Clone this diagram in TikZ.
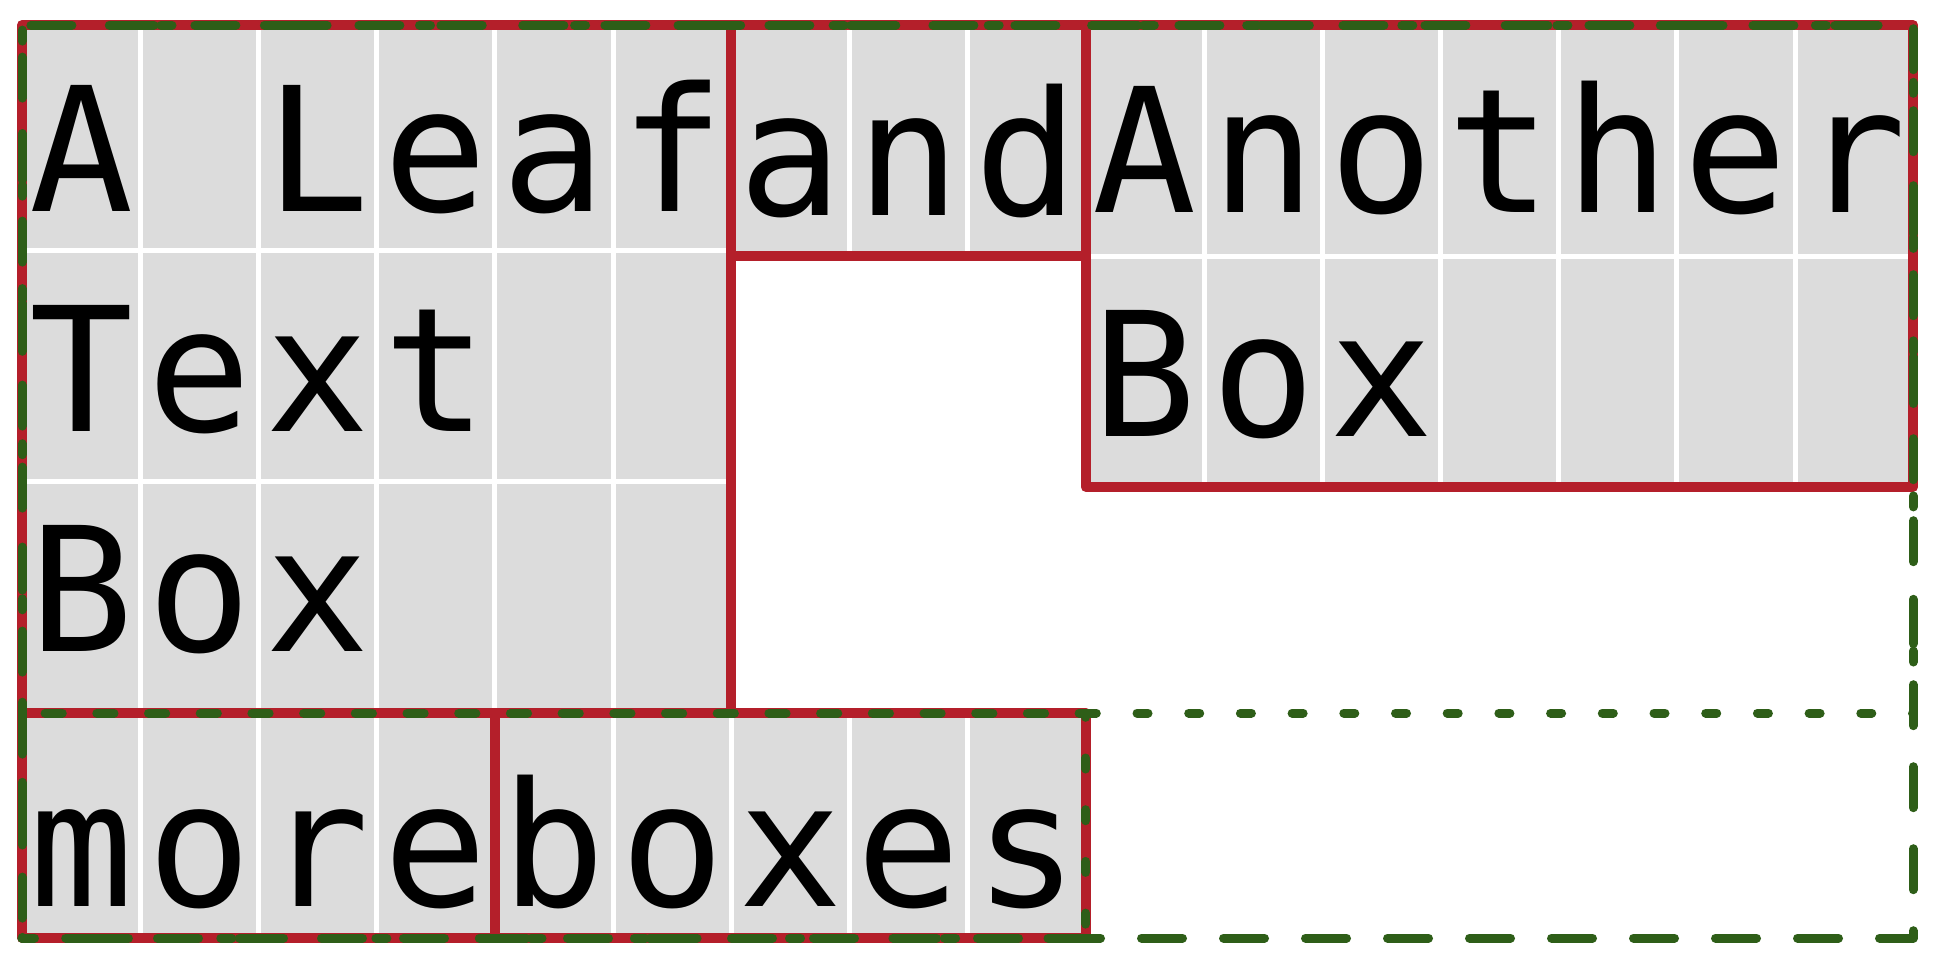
\documentclass[tikz,border=0pt]{standalone}
\usepackage{fontspec}
\setmainfont{DejaVu Sans Mono}
\definecolor{boxred}{RGB}{180,31,42}
\definecolor{dkgreen}{RGB}{46,94,24}
\definecolor{cellgray}{RGB}{220,220,220}
\tikzset{
  cellfill/.style={fill=cellgray, draw=none},
  sepline/.style={draw=white, line width=5pt},
  redbox/.style={draw=boxred, line width=10pt, line join=round},
  contdash/.style={draw=dkgreen, line width=9pt, line cap=round, line join=round, dash pattern=on 41pt off 41pt, dash phase=28.5pt},
  linedot/.style={draw=dkgreen, line width=9pt, line cap=round, line join=round, dash pattern=on 11pt off 40.7pt},
  glyph/.style={anchor=base, inner sep=0pt, outer sep=0pt, font=\fontsize{173}{200}\selectfont}
}
\begin{document}
\begin{tikzpicture}[x=1pt,y=-1pt]
\useasboundingbox (0,0) rectangle (1936,962);
% ---- cell backgrounds
\fill[cellgray] (22,25) rectangle (731.2,713);
\fill[cellgray] (731.2,25) rectangle (1085.8,256);
\fill[cellgray] (1085.8,25) rectangle (1913.2,487);
\fill[cellgray] (22,713) rectangle (494.8,938);
\fill[cellgray] (494.8,713) rectangle (1085.8,938);
% ---- white cell separators
\foreach \x in {140.2,258.4,376.6,494.8,613} \draw[sepline] (\x,25) -- (\x,713);
\foreach \y in {250,481} \draw[sepline] (22,\y) -- (731.2,\y);
\foreach \x in {849.4,967.6} \draw[sepline] (\x,25) -- (\x,256);
\foreach \x in {1204,1322.2,1440.4,1558.6,1676.8,1795} \draw[sepline] (\x,25) -- (\x,487);
\draw[sepline] (1085.8,256) -- (1913.2,256);
\foreach \x in {140.2,258.4,376.6} \draw[sepline] (\x,713) -- (\x,938);
\foreach \x in {613,731.2,849.4,967.6} \draw[sepline] (\x,713) -- (\x,938);
% ---- glyphs
\foreach \ch/\k in {A/0,L/2,e/3,a/4,f/5}
  \node[glyph] (la\k) at ({81.1+118.2*\k},211) {\ch};
\foreach \ch/\k in {T/0,e/1,x/2,t/3}
  \node[glyph] (lb\k) at ({81.1+118.2*\k},431) {\ch};
\foreach \ch/\k in {B/0,o/1,x/2}
  \node[glyph] (lc\k) at ({81.1+118.2*\k},651) {\ch};
\foreach \ch/\k in {a/6,n/7,d/8}
  \node[glyph] (nd\k) at ({81.1+118.2*\k},215) {\ch};
\foreach \ch/\k in {A/9,n/10,o/11,t/12,h/13,e/14,r/15}
  \node[glyph] (ra\k) at ({81.1+118.2*\k},212) {\ch};
\foreach \ch/\k in {B/9,o/10,x/11}
  \node[glyph] (rb\k) at ({81.1+118.2*\k},436) {\ch};
\foreach \ch/\k in {m/0,o/1,r/2,e/3,b/4,o/5,x/6,e/7,s/8}
  \node[glyph] (mb\k) at ({81.1+118.2*\k},906) {\ch};
% ---- red box borders
\draw[redbox] (22,25) rectangle (731.2,713);
\draw[redbox] (731.2,25) rectangle (1085.8,256);
\draw[redbox] (1085.8,25) rectangle (1913.2,487);
\draw[redbox] (22,713) rectangle (494.8,938);
\draw[redbox] (494.8,713) rectangle (1085.8,938);
% ---- green line boxes and container
\draw[linedot, dash phase=22.4pt] (22,713) -- (1913.2,713) -- (1913.2,25) -- (22,25) -- cycle;
\draw[linedot, dash phase=8pt] (22,938) -- (1085.8,938) -- (1085.8,713) -- (22,713) -- cycle;
\draw[contdash] (22,938) -- (1913.2,938) -- (1913.2,25) -- (22,25) -- cycle;
\end{tikzpicture}
\end{document}
